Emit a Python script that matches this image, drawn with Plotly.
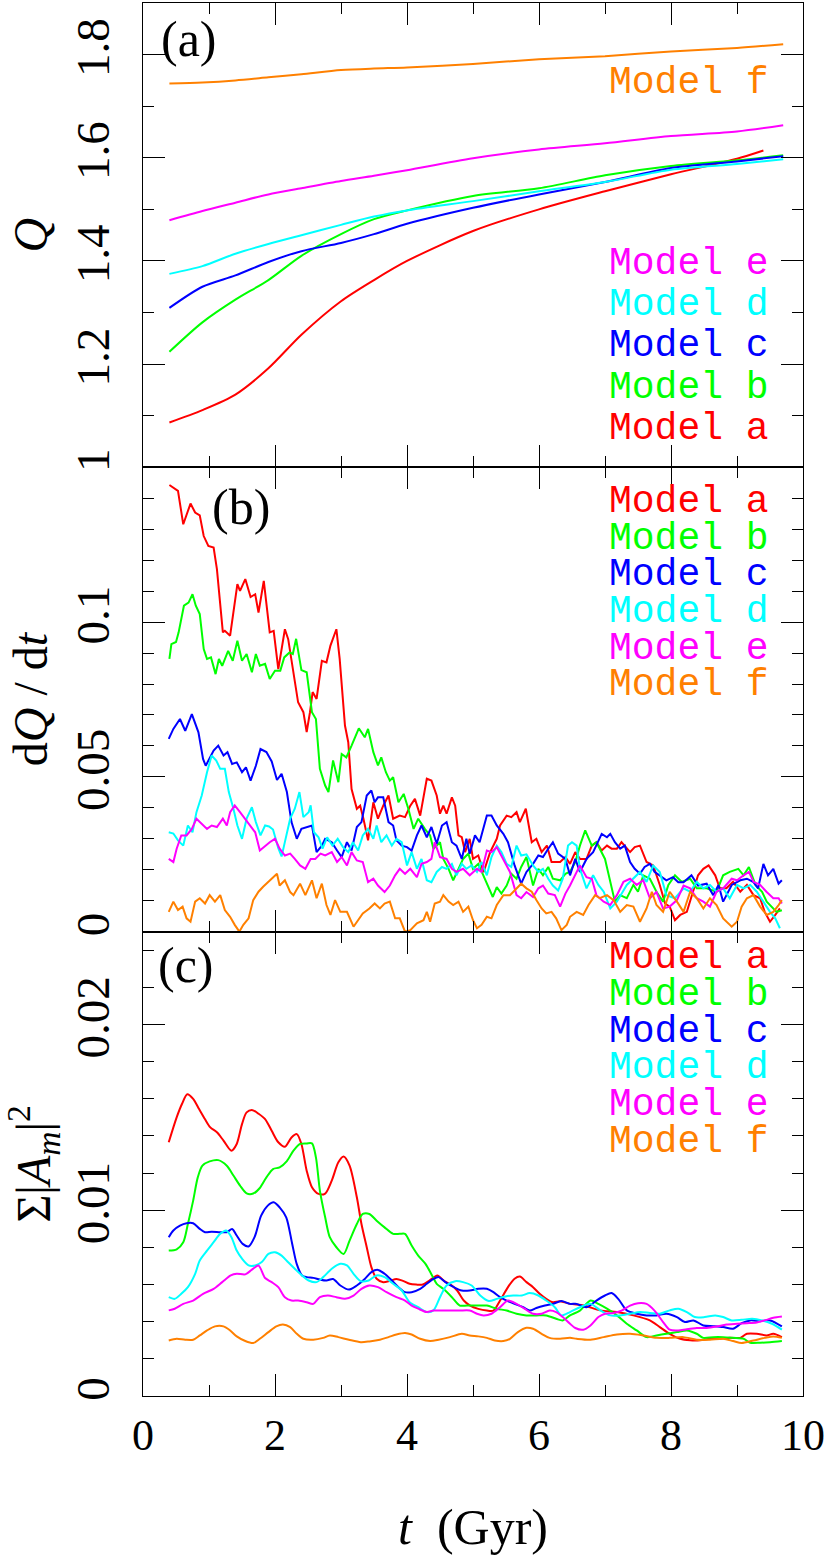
import plotly.graph_objects as go
from plotly.subplots import make_subplots

# ---- panel (a): Q(t) ----
T_Q = [0.4, 0.9, 1.4, 1.9, 2.4, 3.0, 3.5, 4.0, 5.0, 6.0, 7.0, 8.0, 9.0, 9.7]
T_Q_A = [0.4, 0.9, 1.4, 1.9, 2.4, 3.0, 3.5, 4.0, 5.0, 6.0, 7.0, 8.0, 9.0, 9.4]
Q_A = [1.087, 1.111, 1.141, 1.192, 1.257, 1.322, 1.363, 1.400, 1.458, 1.500, 1.535, 1.568, 1.598, 1.614]
Q_B = [1.224, 1.281, 1.325, 1.363, 1.410, 1.452, 1.481, 1.498, 1.526, 1.541, 1.566, 1.584, 1.595, 1.605]
Q_C = [1.309, 1.350, 1.372, 1.398, 1.419, 1.435, 1.452, 1.472, 1.503, 1.529, 1.553, 1.580, 1.593, 1.603]
Q_D = [1.375, 1.390, 1.414, 1.433, 1.450, 1.470, 1.486, 1.498, 1.516, 1.535, 1.553, 1.577, 1.588, 1.597]
Q_E = [1.479, 1.497, 1.513, 1.529, 1.541, 1.555, 1.565, 1.576, 1.599, 1.616, 1.628, 1.642, 1.651, 1.663]
Q_F = [1.744, 1.746, 1.750, 1.756, 1.762, 1.770, 1.773, 1.775, 1.782, 1.791, 1.797, 1.806, 1.813, 1.820]

# ---- panel (b): dQ/dt, (t, value) pairs ----
DQ_A = [(0.40, .1443), (0.46, .1434), (0.53, .1424), (0.61, .1316), (0.72, .1383), (0.79, .1354),
        (0.86, .1345), (0.92, .1278), (0.99, .1246), (1.07, .1241), (1.12, .1171), (1.21, .0967),
        (1.24, .0972), (1.32, .0956), (1.43, .1123), (1.47, .1101), (1.55, .1139), (1.63, .1081),
        (1.70, .1090), (1.75, .1031), (1.83, .1133), (1.92, .0967), (1.98, .0972), (2.05, .0848),
        (2.15, .0977), (2.20, .0945), (2.28, .0838), (2.35, .0741), (2.43, .0709), (2.48, .0645),
        (2.53, .0709), (2.57, .0774), (2.63, .0752), (2.71, .0875), (2.78, .0870), (2.84, .0924),
        (2.93, .0977), (2.98, .0881), (3.06, .0666), (3.11, .0612), (3.16, .0461), (3.24, .0397),
        (3.29, .0407), (3.34, .0365), (3.41, .0295), (3.49, .0418), (3.56, .0365), (3.64, .0407),
        (3.72, .0440), (3.79, .0365), (3.89, .0375), (3.97, .0370), (4.05, .0407), (4.12, .0429),
        (4.20, .0375), (4.30, .0494), (4.37, .0488), (4.45, .0440), (4.50, .0381), (4.55, .0407),
        (4.60, .0381), (4.68, .0434), (4.73, .0407), (4.78, .0311), (4.83, .0305), (4.88, .0257),
        (4.95, .0300), (5.00, .0235), (5.08, .0246), (5.16, .0192), (5.26, .0257), (5.36, .0300),
        (5.41, .0343), (5.51, .0375), (5.58, .0370), (5.66, .0386), (5.71, .0354), (5.80, .0397),
        (5.89, .0289), (5.96, .0300), (6.04, .0257), (6.12, .0278), (6.19, .0225), (6.32, .0225),
        (6.40, .0241), (6.47, .0219), (6.55, .0257), (6.62, .0235), (6.72, .0235), (6.80, .0278),
        (6.87, .0289), (6.95, .0262), (7.03, .0278), (7.10, .0268), (7.18, .0268), (7.25, .0289),
        (7.38, .0257), (7.45, .0273), (7.53, .0278), (7.63, .0225), (7.73, .0214), (7.83, .0151),
        (7.91, .0091), (7.98, .0081), (8.06, .0037), (8.14, .0054), (8.24, .0064), (8.34, .0129),
        (8.41, .0182), (8.49, .0203), (8.57, .0214), (8.67, .0182), (8.74, .0140), (8.84, .0140),
        (8.94, .0161), (9.05, .0129), (9.15, .0151), (9.25, .0118), (9.35, .0108), (9.42, .0064),
        (9.50, .0032), (9.58, .0054), (9.65, .0075)]
DQ_B = [(0.40, .0881), (0.43, .0929), (0.50, .0936), (0.54, .0967), (0.62, .1053), (0.69, .1063),
        (0.75, .1090), (0.80, .1053), (0.86, .1026), (0.92, .0913), (0.97, .0881), (1.03, .0886),
        (1.10, .0832), (1.15, .0881), (1.20, .0859), (1.29, .0907), (1.36, .0875), (1.43, .0940),
        (1.50, .0875), (1.57, .0897), (1.65, .0838), (1.71, .0897), (1.77, .0859), (1.85, .0865),
        (1.92, .0816), (2.00, .0843), (2.08, .0843), (2.14, .0886), (2.22, .0902), (2.27, .0897),
        (2.32, .0946), (2.40, .0845), (2.48, .0838), (2.56, .0709), (2.62, .0687), (2.68, .0526),
        (2.76, .0472), (2.81, .0451), (2.88, .0553), (2.96, .0483), (3.01, .0574), (3.08, .0563),
        (3.16, .0601), (3.21, .0628), (3.27, .0657), (3.36, .0628), (3.41, .0655), (3.49, .0580),
        (3.56, .0537), (3.61, .0563), (3.68, .0515), (3.74, .0488), (3.79, .0499), (3.87, .0418),
        (3.95, .0445), (4.02, .0397), (4.10, .0332), (4.17, .0365), (4.27, .0332), (4.35, .0311),
        (4.40, .0268), (4.50, .0289), (4.55, .0235), (4.63, .0203), (4.70, .0166), (4.78, .0203),
        (4.85, .0235), (4.93, .0252), (5.00, .0203), (5.08, .0219), (5.16, .0182), (5.23, .0149),
        (5.30, .0112), (5.36, .0144), (5.43, .0123), (5.51, .0149), (5.58, .0187), (5.66, .0171),
        (5.73, .0209), (5.81, .0241), (5.91, .0149), (5.99, .0203), (6.06, .0182), (6.14, .0209),
        (6.21, .0171), (6.32, .0166), (6.40, .0187), (6.47, .0194), (6.55, .0225), (6.62, .0278),
        (6.70, .0327), (6.80, .0278), (6.87, .0289), (7.00, .0235), (7.08, .0161), (7.15, .0097),
        (7.23, .0118), (7.33, .0108), (7.43, .0151), (7.50, .0129), (7.58, .0182), (7.68, .0171),
        (7.78, .0129), (7.88, .0097), (7.96, .0151), (8.06, .0182), (8.16, .0161), (8.29, .0171),
        (8.39, .0140), (8.54, .0140), (8.69, .0129), (8.79, .0182), (8.89, .0193), (9.02, .0203),
        (9.10, .0182), (9.18, .0209), (9.28, .0151), (9.38, .0129), (9.45, .0097), (9.53, .0081),
        (9.60, .0064), (9.68, .0069)]
DQ_C = [(0.39, .0623), (0.46, .0655), (0.56, .0687), (0.64, .0649), (0.74, .0703), (0.84, .0644),
        (0.91, .0558), (0.95, .0536), (1.07, .0585), (1.14, .0601), (1.22, .0569), (1.28, .0580),
        (1.35, .0542), (1.42, .0547), (1.50, .0515), (1.56, .0531), (1.63, .0488), (1.71, .0536),
        (1.78, .0590), (1.87, .0580), (1.95, .0550), (2.03, .0490), (2.10, .0510), (2.18, .0451),
        (2.25, .0354), (2.33, .0300), (2.40, .0332), (2.51, .0338), (2.56, .0343), (2.63, .0257),
        (2.71, .0278), (2.76, .0300), (2.86, .0289), (2.94, .0262), (3.01, .0241), (3.09, .0289),
        (3.16, .0262), (3.24, .0338), (3.31, .0354), (3.39, .0440), (3.46, .0456), (3.51, .0418),
        (3.56, .0434), (3.64, .0434), (3.72, .0354), (3.79, .0343), (3.84, .0295), (3.92, .0278),
        (4.00, .0273), (4.07, .0262), (4.15, .0311), (4.22, .0343), (4.30, .0305), (4.37, .0338),
        (4.45, .0284), (4.53, .0343), (4.60, .0354), (4.68, .0289), (4.75, .0278), (4.83, .0235),
        (4.90, .0300), (4.95, .0252), (5.03, .0311), (5.10, .0289), (5.21, .0375), (5.28, .0375),
        (5.36, .0343), (5.46, .0316), (5.53, .0289), (5.63, .0214), (5.73, .0155), (5.81, .0193),
        (5.91, .0219), (5.99, .0246), (6.06, .0241), (6.14, .0268), (6.21, .0289), (6.29, .0252),
        (6.40, .0235), (6.47, .0182), (6.55, .0235), (6.62, .0193), (6.72, .0235), (6.82, .0257),
        (6.95, .0316), (7.03, .0305), (7.08, .0316), (7.15, .0289), (7.23, .0268), (7.30, .0278),
        (7.38, .0225), (7.45, .0203), (7.53, .0187), (7.60, .0209), (7.68, .0219), (7.75, .0193),
        (7.83, .0182), (7.93, .0166), (8.03, .0176), (8.11, .0160), (8.19, .0160), (8.31, .0182),
        (8.41, .0149), (8.54, .0155), (8.64, .0118), (8.72, .0151), (8.79, .0097), (8.92, .0151),
        (9.05, .0166), (9.15, .0171), (9.25, .0160), (9.32, .0140), (9.40, .0219), (9.47, .0182),
        (9.55, .0203), (9.63, .0155), (9.68, .0166)]
DQ_D = [(0.39, .0321), (0.46, .0317), (0.53, .0295), (0.61, .0278), (0.68, .0343), (0.75, .0321),
        (0.81, .0386), (0.89, .0440), (0.97, .0515), (1.04, .0569), (1.11, .0553), (1.17, .0526),
        (1.24, .0526), (1.30, .0451), (1.37, .0397), (1.43, .0343), (1.50, .0300), (1.57, .0365),
        (1.65, .0402), (1.71, .0354), (1.78, .0311), (1.85, .0343), (1.91, .0340), (1.97, .0330),
        (2.05, .0270), (2.10, .0243), (2.15, .0290), (2.23, .0365), (2.30, .0397), (2.37, .0451),
        (2.43, .0370), (2.51, .0386), (2.54, .0408), (2.59, .0321), (2.66, .0305), (2.72, .0268),
        (2.79, .0305), (2.87, .0278), (2.95, .0300), (3.03, .0273), (3.11, .0257), (3.18, .0289),
        (3.26, .0262), (3.33, .0311), (3.41, .0332), (3.49, .0300), (3.54, .0343), (3.61, .0289),
        (3.69, .0311), (3.77, .0278), (3.84, .0300), (3.92, .0289), (4.00, .0214), (4.07, .0257),
        (4.15, .0203), (4.22, .0235), (4.30, .0166), (4.37, .0160), (4.45, .0193), (4.53, .0209),
        (4.60, .0203), (4.68, .0219), (4.75, .0182), (4.83, .0219), (4.90, .0203), (4.98, .0214),
        (5.06, .0193), (5.13, .0225), (5.21, .0182), (5.28, .0241), (5.36, .0278), (5.43, .0257),
        (5.51, .0219), (5.58, .0209), (5.66, .0278), (5.73, .0246), (5.81, .0250), (5.91, .0214),
        (5.99, .0193), (6.06, .0203), (6.14, .0171), (6.21, .0149), (6.29, .0133), (6.36, .0171),
        (6.44, .0278), (6.50, .0289), (6.57, .0278), (6.62, .0203), (6.72, .0140), (6.82, .0182),
        (6.90, .0151), (6.98, .0129), (7.08, .0075), (7.18, .0097), (7.33, .0151), (7.43, .0171),
        (7.53, .0193), (7.63, .0161), (7.73, .0214), (7.83, .0193), (7.93, .0118), (8.06, .0108),
        (8.19, .0140), (8.29, .0129), (8.39, .0161), (8.49, .0140), (8.59, .0151), (8.69, .0129),
        (8.79, .0140), (8.89, .0108), (9.00, .0151), (9.10, .0140), (9.20, .0151), (9.30, .0129),
        (9.40, .0097), (9.50, .0064), (9.58, .0043), (9.65, .0011)]
DQ_E = [(0.39, .0235), (0.46, .0225), (0.51, .0268), (0.58, .0311), (0.66, .0311), (0.74, .0332),
        (0.81, .0365), (0.89, .0349), (0.97, .0332), (1.04, .0343), (1.12, .0338), (1.21, .0365),
        (1.27, .0343), (1.32, .0386), (1.39, .0408), (1.47, .0386), (1.54, .0365), (1.62, .0343),
        (1.70, .0321), (1.77, .0262), (1.85, .0278), (1.92, .0289), (2.00, .0300), (2.07, .0268),
        (2.15, .0246), (2.23, .0252), (2.30, .0235), (2.38, .0214), (2.46, .0203), (2.54, .0235),
        (2.61, .0235), (2.69, .0252), (2.76, .0246), (2.86, .0257), (2.94, .0225), (3.01, .0241),
        (3.09, .0214), (3.16, .0257), (3.24, .0230), (3.33, .0225), (3.41, .0160), (3.49, .0171),
        (3.56, .0149), (3.66, .0128), (3.74, .0149), (3.82, .0182), (3.89, .0203), (3.97, .0187),
        (4.05, .0203), (4.15, .0176), (4.22, .0219), (4.30, .0225), (4.37, .0235), (4.42, .0289),
        (4.50, .0241), (4.60, .0235), (4.68, .0203), (4.75, .0193), (4.85, .0203), (4.95, .0182),
        (5.06, .0203), (5.13, .0193), (5.21, .0262), (5.28, .0257), (5.36, .0273), (5.46, .0235),
        (5.56, .0193), (5.66, .0118), (5.73, .0108), (5.81, .0128), (5.91, .0112), (5.99, .0140),
        (6.06, .0149), (6.14, .0123), (6.24, .0118), (6.32, .0081), (6.40, .0123), (6.47, .0149),
        (6.57, .0193), (6.62, .0214), (6.72, .0176), (6.80, .0171), (6.87, .0118), (6.98, .0097),
        (7.08, .0086), (7.18, .0118), (7.28, .0161), (7.38, .0171), (7.48, .0151), (7.58, .0166),
        (7.68, .0108), (7.78, .0128), (7.88, .0075), (7.98, .0081), (8.09, .0102), (8.19, .0149),
        (8.29, .0140), (8.39, .0108), (8.49, .0097), (8.59, .0081), (8.69, .0129), (8.79, .0140),
        (8.92, .0171), (9.00, .0166), (9.10, .0182), (9.18, .0193), (9.25, .0161), (9.35, .0151),
        (9.45, .0128), (9.55, .0108), (9.63, .0108), (9.68, .0091)]
DQ_F = [(0.39, .0064), (0.46, .0097), (0.53, .0070), (0.60, .0081), (0.66, .0043), (0.72, .0032),
        (0.79, .0097), (0.86, .0108), (0.94, .0091), (1.01, .0118), (1.09, .0097), (1.17, .0118),
        (1.24, .0070), (1.32, .0048), (1.39, .0022), (1.46, .0000), (1.52, .0022), (1.60, .0043),
        (1.67, .0102), (1.75, .0129), (1.82, .0145), (1.90, .0161), (1.97, .0176), (2.03, .0187),
        (2.07, .0149), (2.15, .0166), (2.23, .0128), (2.28, .0118), (2.38, .0155), (2.46, .0118),
        (2.56, .0166), (2.63, .0108), (2.71, .0155), (2.78, .0086), (2.84, .0054), (2.91, .0102),
        (2.99, .0064), (3.09, .0064), (3.19, .0016), (3.26, .0037), (3.33, .0059), (3.43, .0075),
        (3.51, .0091), (3.59, .0075), (3.66, .0091), (3.74, .0097), (3.82, .0043), (3.89, .0043),
        (3.97, .0000), (4.05, .0005), (4.15, .0027), (4.25, .0037), (4.30, .0064), (4.35, .0032),
        (4.42, .0091), (4.50, .0097), (4.55, .0118), (4.63, .0097), (4.70, .0086), (4.78, .0097),
        (4.85, .0064), (4.93, .0081), (5.00, .0037), (5.06, .0011), (5.13, .0022), (5.21, .0048),
        (5.28, .0043), (5.36, .0086), (5.46, .0118), (5.56, .0118), (5.66, .0140), (5.73, .0155),
        (5.81, .0140), (5.89, .0129), (5.96, .0102), (6.04, .0075), (6.11, .0059), (6.19, .0064),
        (6.26, .0043), (6.34, .0005), (6.42, .0022), (6.47, .0048), (6.57, .0064), (6.67, .0054),
        (6.75, .0086), (6.85, .0118), (6.92, .0108), (7.03, .0118), (7.13, .0102), (7.23, .0064),
        (7.33, .0086), (7.43, .0081), (7.53, .0032), (7.63, .0075), (7.71, .0129), (7.78, .0086),
        (7.88, .0064), (7.98, .0129), (8.09, .0097), (8.19, .0064), (8.29, .0129), (8.39, .0108),
        (8.49, .0075), (8.59, .0108), (8.69, .0086), (8.79, .0043), (8.92, .0016), (9.00, .0032),
        (9.07, .0081), (9.15, .0108), (9.25, .0118), (9.35, .0081), (9.45, .0054), (9.55, .0064),
        (9.63, .0086), (9.68, .0102)]

# ---- panel (c): sum |A_m|^2, (t, value) pairs ----
AM_A = [(0.39, .01366), (0.51, .01500), (0.59, .01572), (0.67, .01625), (0.76, .01600), (0.85, .01545),
        (0.94, .01490), (1.02, .01446), (1.12, .01420), (1.22, .01375), (1.34, .01321), (1.42, .01357),
        (1.50, .01464), (1.57, .01527), (1.66, .01539), (1.75, .01520), (1.85, .01491), (1.95, .01428),
        (2.05, .01366), (2.15, .01342), (2.25, .01392), (2.33, .01410), (2.40, .01357), (2.48, .01213),
        (2.56, .01124), (2.66, .01088), (2.76, .01090), (2.86, .01160), (2.96, .01258), (3.04, .01289),
        (3.13, .01240), (3.24, .01070), (3.31, .00926), (3.39, .00801), (3.46, .00694), (3.54, .00631),
        (3.64, .00613), (3.74, .00620), (3.84, .00630), (3.94, .00620), (4.04, .00604), (4.14, .00600),
        (4.24, .00600), (4.34, .00622), (4.46, .00649), (4.56, .00620), (4.66, .00600), (4.76, .00568),
        (4.86, .00514), (4.95, .00488), (5.08, .00469), (5.21, .00460), (5.31, .00460), (5.41, .00514),
        (5.53, .00586), (5.63, .00631), (5.71, .00643), (5.81, .00613), (5.91, .00586), (6.01, .00550),
        (6.11, .00523), (6.21, .00505), (6.32, .00510), (6.47, .00496), (6.68, .00487), (6.93, .00461),
        (7.18, .00452), (7.43, .00434), (7.68, .00407), (7.83, .00371), (7.98, .00335), (8.14, .00308),
        (8.29, .00300), (8.44, .00300), (8.59, .00308), (8.74, .00308), (8.89, .00313), (9.05, .00313),
        (9.15, .00335), (9.30, .00335), (9.45, .00326), (9.55, .00335), (9.68, .00317)]
AM_B = [(0.39, .00783), (0.51, .00790), (0.61, .00828), (0.68, .00926), (0.76, .01052), (0.83, .01177),
        (0.90, .01240), (1.01, .01263), (1.14, .01270), (1.27, .01240), (1.37, .01187), (1.47, .01133),
        (1.57, .01091), (1.67, .01090), (1.77, .01120), (1.87, .01177), (1.97, .01222), (2.07, .01231),
        (2.18, .01265), (2.28, .01321), (2.38, .01357), (2.48, .01360), (2.56, .01360), (2.62, .01285),
        (2.68, .01106), (2.76, .00962), (2.83, .00855), (2.93, .00801), (3.04, .00765), (3.13, .00837),
        (3.24, .00926), (3.33, .00980), (3.43, .00980), (3.54, .00944), (3.66, .00908), (3.79, .00873),
        (3.89, .00873), (3.97, .00873), (4.07, .00810), (4.17, .00756), (4.28, .00711), (4.38, .00649),
        (4.45, .00604), (4.55, .00577), (4.68, .00532), (4.80, .00487), (4.91, .00487), (5.06, .00487),
        (5.21, .00487), (5.36, .00470), (5.51, .00460), (5.66, .00443), (5.81, .00434), (5.96, .00434),
        (6.11, .00434), (6.26, .00416), (6.36, .00407), (6.47, .00434), (6.62, .00460), (6.78, .00514),
        (6.90, .00496), (7.03, .00470), (7.18, .00434), (7.33, .00389), (7.48, .00353), (7.63, .00317),
        (7.78, .00326), (7.93, .00335), (8.09, .00344), (8.24, .00353), (8.39, .00335), (8.49, .00313),
        (8.64, .00317), (8.79, .00317), (8.94, .00313), (9.10, .00308), (9.20, .00287), (9.35, .00287),
        (9.50, .00290), (9.68, .00296)]
AM_C = [(0.39, .00855), (0.46, .00891), (0.56, .00917), (0.66, .00930), (0.76, .00930), (0.86, .00900),
        (0.94, .00882), (1.04, .00885), (1.17, .00882), (1.27, .00882), (1.35, .00899), (1.42, .00864),
        (1.51, .00819), (1.60, .00805), (1.69, .00855), (1.79, .00971), (1.89, .01025), (1.98, .01043),
        (2.07, .01016), (2.17, .00962), (2.26, .00820), (2.33, .00710), (2.41, .00649), (2.48, .00640),
        (2.58, .00636), (2.68, .00627), (2.78, .00622), (2.88, .00630), (2.99, .00595), (3.12, .00573),
        (3.24, .00595), (3.36, .00630), (3.46, .00667), (3.56, .00679), (3.66, .00658), (3.77, .00622),
        (3.87, .00586), (3.97, .00559), (4.07, .00559), (4.20, .00577), (4.30, .00604), (4.40, .00630),
        (4.48, .00640), (4.58, .00613), (4.71, .00586), (4.83, .00568), (4.95, .00568), (5.08, .00577),
        (5.21, .00577), (5.31, .00559), (5.41, .00532), (5.51, .00514), (5.63, .00496), (5.76, .00478),
        (5.86, .00460), (5.96, .00474), (6.09, .00487), (6.21, .00496), (6.34, .00511), (6.47, .00496),
        (6.57, .00496), (6.72, .00478), (6.87, .00514), (7.00, .00541), (7.10, .00554), (7.20, .00523),
        (7.33, .00461), (7.48, .00443), (7.63, .00434), (7.78, .00434), (7.93, .00443), (8.09, .00425),
        (8.21, .00398), (8.34, .00407), (8.49, .00380), (8.64, .00376), (8.79, .00371), (8.94, .00362),
        (9.07, .00392), (9.20, .00407), (9.35, .00403), (9.50, .00407), (9.68, .00375)]
AM_D = [(0.39, .00532), (0.48, .00523), (0.58, .00550), (0.68, .00586), (0.79, .00658), (0.86, .00730),
        (0.97, .00783), (1.07, .00828), (1.17, .00873), (1.26, .00891), (1.34, .00855), (1.42, .00783),
        (1.50, .00739), (1.60, .00703), (1.70, .00703), (1.80, .00721), (1.90, .00765), (2.00, .00774),
        (2.10, .00756), (2.20, .00720), (2.30, .00685), (2.38, .00658), (2.51, .00622), (2.63, .00613),
        (2.73, .00640), (2.86, .00685), (2.99, .00712), (3.09, .00703), (3.19, .00658), (3.30, .00618),
        (3.42, .00622), (3.54, .00649), (3.66, .00640), (3.79, .00604), (3.92, .00568), (4.04, .00505),
        (4.17, .00478), (4.30, .00452), (4.40, .00461), (4.50, .00532), (4.60, .00595), (4.73, .00618),
        (4.85, .00613), (4.98, .00595), (5.11, .00541), (5.24, .00511), (5.36, .00523), (5.49, .00536),
        (5.61, .00541), (5.74, .00541), (5.86, .00554), (5.99, .00541), (6.11, .00514), (6.24, .00478),
        (6.34, .00434), (6.47, .00452), (6.62, .00478), (6.78, .00496), (6.93, .00461), (7.08, .00434),
        (7.23, .00434), (7.38, .00443), (7.53, .00452), (7.68, .00447), (7.83, .00443), (7.98, .00461),
        (8.11, .00470), (8.24, .00452), (8.36, .00425), (8.51, .00425), (8.67, .00434), (8.79, .00425),
        (8.92, .00407), (9.07, .00410), (9.23, .00416), (9.38, .00407), (9.53, .00389), (9.68, .00357)]
AM_E = [(0.39, .00461), (0.48, .00470), (0.61, .00496), (0.76, .00514), (0.91, .00550), (1.07, .00577),
        (1.20, .00613), (1.33, .00649), (1.42, .00658), (1.55, .00655), (1.65, .00680), (1.75, .00702),
        (1.85, .00635), (1.95, .00613), (2.05, .00586), (2.15, .00532), (2.25, .00514), (2.35, .00514),
        (2.48, .00505), (2.58, .00496), (2.68, .00532), (2.80, .00541), (2.93, .00532), (3.06, .00523),
        (3.19, .00541), (3.31, .00577), (3.43, .00595), (3.56, .00586), (3.69, .00559), (3.84, .00532),
        (3.97, .00514), (4.07, .00487), (4.17, .00470), (4.30, .00452), (4.40, .00460), (4.53, .00460),
        (4.65, .00460), (4.80, .00460), (4.95, .00460), (5.06, .00443), (5.16, .00434), (5.28, .00443),
        (5.41, .00478), (5.53, .00514), (5.66, .00496), (5.78, .00470), (5.91, .00443), (6.04, .00443),
        (6.16, .00460), (6.26, .00452), (6.36, .00425), (6.47, .00389), (6.55, .00366), (6.67, .00357),
        (6.78, .00380), (6.90, .00425), (7.00, .00443), (7.13, .00447), (7.25, .00460), (7.38, .00487),
        (7.50, .00500), (7.63, .00496), (7.75, .00460), (7.88, .00398), (7.98, .00357), (8.11, .00353),
        (8.24, .00360), (8.39, .00366), (8.54, .00366), (8.69, .00374), (8.84, .00385), (9.00, .00389),
        (9.15, .00392), (9.30, .00396), (9.42, .00407), (9.55, .00421), (9.68, .00428)]
AM_F = [(0.39, .00299), (0.51, .00308), (0.64, .00303), (0.76, .00303), (0.86, .00326), (0.97, .00353),
        (1.09, .00375), (1.22, .00375), (1.32, .00353), (1.42, .00321), (1.55, .00296), (1.67, .00285),
        (1.77, .00308), (1.90, .00344), (2.02, .00375), (2.12, .00385), (2.23, .00371), (2.33, .00335),
        (2.43, .00308), (2.58, .00303), (2.73, .00313), (2.83, .00326), (2.96, .00317), (3.12, .00303),
        (3.30, .00290), (3.43, .00294), (3.59, .00303), (3.72, .00317), (3.84, .00331), (3.97, .00339),
        (4.07, .00331), (4.20, .00308), (4.35, .00296), (4.48, .00303), (4.65, .00317), (4.83, .00335),
        (4.95, .00326), (5.08, .00321), (5.21, .00313), (5.33, .00299), (5.46, .00296), (5.56, .00308),
        (5.68, .00344), (5.81, .00367), (5.91, .00362), (6.04, .00335), (6.16, .00313), (6.32, .00308),
        (6.47, .00313), (6.57, .00308), (6.78, .00303), (6.98, .00317), (7.18, .00331), (7.38, .00335),
        (7.58, .00326), (7.78, .00313), (7.98, .00313), (8.19, .00317), (8.39, .00303), (8.59, .00303),
        (8.79, .00308), (8.94, .00296), (9.07, .00285), (9.25, .00299), (9.42, .00313), (9.55, .00321),
        (9.68, .00313)]

MODELS = ["a", "b", "c", "d", "e", "f"]
COLORS = ["#ff0000", "#00ff00", "#0000ff", "#00ffff", "#ff00ff", "#ff8000"]

SERIF = "Liberation Serif"
MONO = "Liberation Mono"

fig = make_subplots(rows=3, cols=1, shared_xaxes=True, vertical_spacing=0)

# panel (a)
q_sets = [(T_Q_A, Q_A), (T_Q, Q_B), (T_Q, Q_C), (T_Q, Q_D), (T_Q, Q_E), (T_Q, Q_F)]
for (t, q), m, c in zip(q_sets, MODELS, COLORS):
    fig.add_trace(go.Scatter(x=t, y=q, mode="lines", name="Model " + m,
                             line=dict(color=c, width=2, shape="spline", smoothing=0.8)),
                  row=1, col=1)

# panel (b)
for pts, m, c in zip([DQ_A, DQ_B, DQ_C, DQ_D, DQ_E, DQ_F], MODELS, COLORS):
    fig.add_trace(go.Scatter(x=[p[0] for p in pts], y=[p[1] for p in pts], mode="lines",
                             name="Model " + m, line=dict(color=c, width=2)), row=2, col=1)

# panel (c)
for pts, m, c in zip([AM_A, AM_B, AM_C, AM_D, AM_E, AM_F], MODELS, COLORS):
    fig.add_trace(go.Scatter(x=[p[0] for p in pts], y=[p[1] for p in pts], mode="lines",
                             name="Model " + m,
                             line=dict(color=c, width=2, shape="spline", smoothing=0.8)),
                  row=3, col=1)

frame = dict(showline=True, linecolor="black", linewidth=1.3, mirror="ticks",
             ticks="inside", ticklen=22, tickwidth=1.2, tickcolor="black",
             showgrid=False, zeroline=False)
minor_style = dict(ticks="inside", ticklen=11, tickwidth=1.2, tickcolor="black", showgrid=False)

for r in (1, 2, 3):
    fig.update_xaxes(range=[0, 10], dtick=2, tick0=0, minor=dict(dtick=1, **minor_style),
                     tickfont=dict(family=SERIF, size=44, color="black"),
                     **frame, row=r, col=1)
fig.update_xaxes(title=dict(text="<i>t</i>\u00a0 (Gyr)",
                            font=dict(family=SERIF, size=50, color="black"), standoff=58),
                 row=3, col=1)

yfont = dict(family=SERIF, size=48, color="black")
ytick = dict(tickangle=-90, ticklabelstandoff=14, tickfont=dict(family=SERIF, size=47, color="black"))
fig.update_yaxes(range=[1, 1.9], tickvals=[1, 1.2, 1.4, 1.6, 1.8],
                 minor=dict(dtick=0.1, tick0=1, **minor_style),
                 title=dict(text="<i>Q</i>", font=yfont, standoff=4),
                 **ytick, **frame, row=1, col=1)
fig.update_yaxes(range=[0, 0.15], tickvals=[0, 0.05, 0.1],
                 minor=dict(dtick=0.01, tick0=0, **minor_style),
                 title=dict(text="d<i>Q</i> / d<i>t</i>", font=yfont, standoff=4),
                 **ytick, **frame, row=2, col=1)
fig.update_yaxes(range=[0, 0.025], tickvals=[0, 0.01, 0.02],
                 minor=dict(dtick=0.002, tick0=0, **minor_style),
                 title=dict(text="Σ|<i>A</i><sub><i>m</i></sub>|<sup>2</sup>", font=yfont, standoff=4),
                 **ytick, **frame, row=3, col=1)

# model labels, listed in each panel
label_x = 0.703
label_sets = [
    (["f"], [0.9427]),
    (["e", "d", "c", "b", "a"], [0.8132 - 0.0297 * i for i in range(5)]),
    (["a", "b", "c", "d", "e", "f"], [0.6421 - 0.0263 * i for i in range(6)]),
    (["a", "b", "c", "d", "e", "f"], [0.3150 - 0.0265 * i for i in range(6)]),
]
for names, ys in label_sets:
    for m, y in zip(names, ys):
        fig.add_annotation(x=label_x, y=y, xref="paper", yref="paper", xanchor="left",
                           yanchor="middle", showarrow=False, text="Model " + m,
                           font=dict(family=MONO, size=38, color=COLORS[MODELS.index(m)]))

for txt, x, y in [("(a)", 0.0697, 0.9742), ("(b)", 0.1485, 0.6385), ("(c)", 0.0651, 0.3092)]:
    fig.add_annotation(x=x, y=y, xref="paper", yref="paper", xanchor="center", yanchor="middle",
                       showarrow=False, text=txt, font=dict(family=SERIF, size=50, color="black"))

fig.update_layout(width=830, height=1555, margin=dict(l=143, r=27, t=2, b=156),
                  plot_bgcolor="white", paper_bgcolor="white", showlegend=False)

# drop the browser's default 8px page margin so the figure sits at the window origin
fig.write_html("out.html", config={"displayModeBar": False},
               post_script="document.body.style.margin='0px';")
